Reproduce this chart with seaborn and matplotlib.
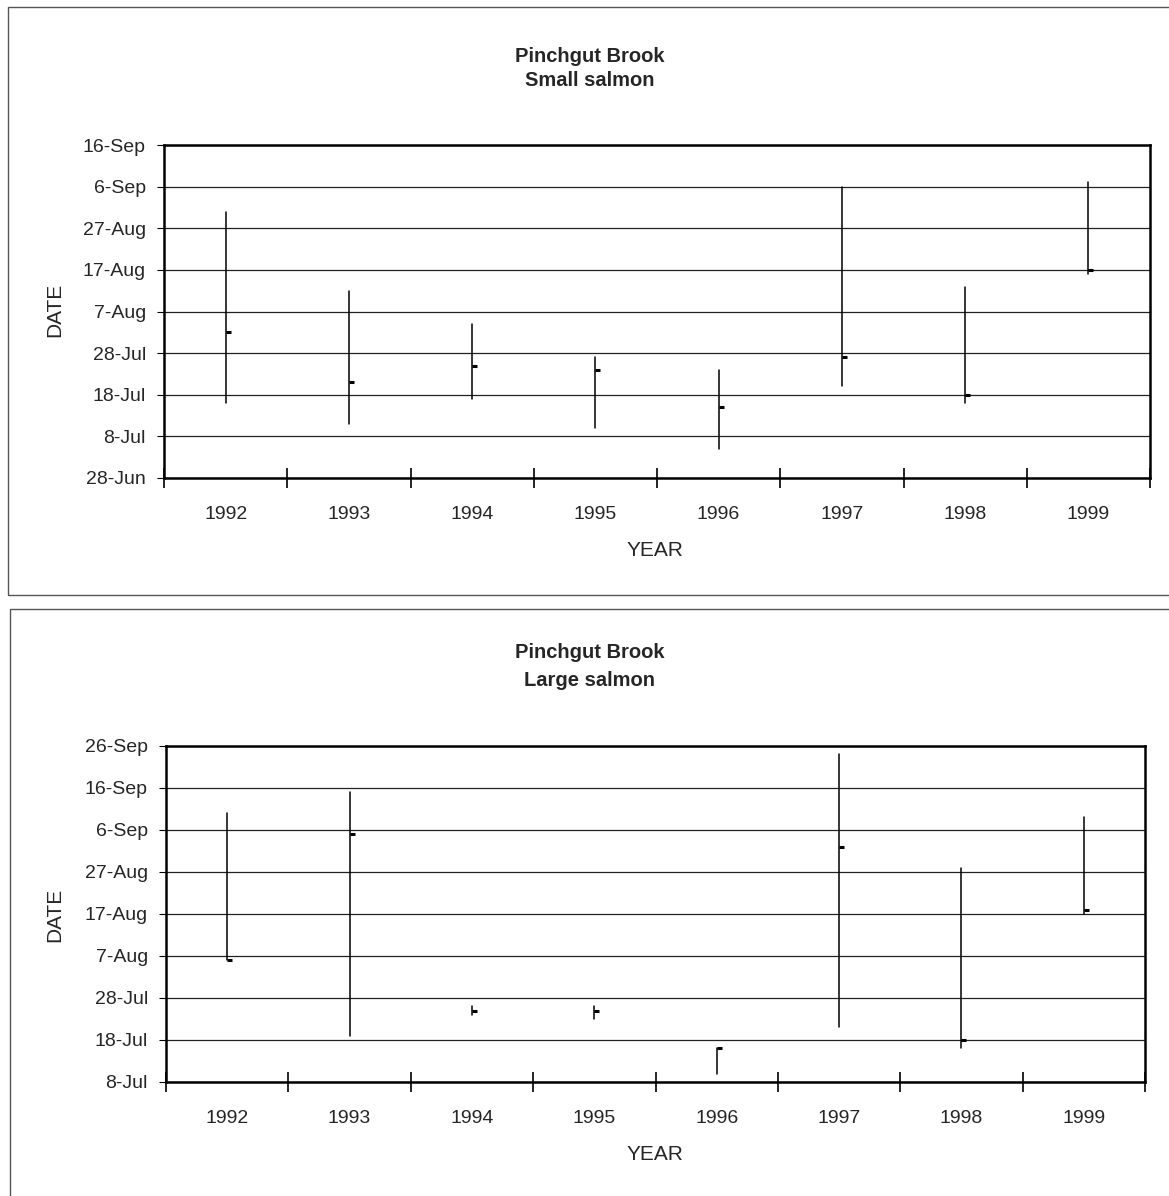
# Pinchgut Brook - datas de passagem de salmão (mín, máx e mediana por ano)
import pandas as pd
import matplotlib
matplotlib.use("Agg")
import matplotlib.pyplot as plt
import matplotlib.dates as mdates
from matplotlib.path import Path
from matplotlib.patches import Rectangle
import seaborn as sns

# ---- dados ----
anos = ["1992", "1993", "1994", "1995", "1996", "1997", "1998", "1999"]

# salmão pequeno
pequeno_min = ["16-Jul", "11-Jul", "17-Jul", "10-Jul", "5-Jul", "20-Jul", "16-Jul", "16-Aug"]
pequeno_max = ["31-Aug", "12-Aug", "4-Aug", "27-Jul", "24-Jul", "6-Sep", "13-Aug", "7-Sep"]
pequeno_med = ["2-Aug", "21-Jul", "25-Jul", "24-Jul", "15-Jul", "27-Jul", "18-Jul", "17-Aug"]

# salmão grande
grande_min = ["6-Aug", "19-Jul", "24-Jul", "23-Jul", "10-Jul", "21-Jul", "16-Jul", "17-Aug"]
grande_max = ["10-Sep", "15-Sep", "26-Jul", "26-Jul", "16-Jul", "24-Sep", "28-Aug", "9-Sep"]
grande_med = ["6-Aug", "5-Sep", "25-Jul", "25-Jul", "16-Jul", "2-Sep", "18-Jul", "18-Aug"]

# limites do eixo y (10 em 10 dias)
lim_pequeno = ("28-Jun", "16-Sep")
lim_grande = ("8-Jul", "26-Sep")


def para_data(txt):
    return pd.to_datetime(txt + "-1999", format="%d-%b-%Y")


def monta_df(mins, maxs, meds):
    df = pd.DataFrame({"ano": anos, "min": mins, "max": maxs, "med": meds})
    for c in ["min", "max", "med"]:
        df[c] = df[c].apply(para_data)
    df["pos"] = range(len(df))
    return df


sns.set_theme(style="white")
plt.rcParams["font.family"] = ["Liberation Sans", "DejaVu Sans"]

fig = plt.figure(figsize=(11.69, 11.96), dpi=100)
W, H = 1169, 1196

# marcador: tracinho que sai para a direita do ponto
tick_dir = Path([(0, 0), (1, 0)], [Path.MOVETO, Path.LINETO])

paineis = [
    (monta_df(pequeno_min, pequeno_max, pequeno_med), lim_pequeno, "Small salmon",
     (164, 145, 1150, 478), (8, 7, 1190, 595), (57, 80), 550, 310),
    (monta_df(grande_min, grande_max, grande_med), lim_grande, "Large salmon",
     (166, 746, 1145, 1082), (10, 609, 1190, 1220), (652, 681), 1155, 915),
]

for df, lim, subtitulo, caixa, moldura, y_tit, y_year, y_date in paineis:
    # moldura externa do gráfico (estilo Excel)
    x0, y0, x1, y1 = moldura
    fig.add_artist(Rectangle((x0 / W, 1 - y1 / H), (x1 - x0) / W, (y1 - y0) / H,
                             transform=fig.transFigure, fill=False,
                             edgecolor="#555555", linewidth=1))

    l, t, r, b = caixa
    ax = fig.add_axes([l / W, 1 - b / H, (r - l) / W, (b - t) / H])

    # linhas verticais min-max
    longo = pd.concat([
        df[["pos", "ano", "min"]].rename(columns={"min": "data"}),
        df[["pos", "ano", "max"]].rename(columns={"max": "data"}),
    ])
    sns.lineplot(data=longo, x="pos", y="data", units="ano", estimator=None,
                 color="black", linewidth=1.1, ax=ax, legend=False)
    # mediana
    sns.scatterplot(data=df, x="pos", y="med", marker=tick_dir, s=60,
                    color="black", edgecolor="black", linewidth=2.2, ax=ax,
                    legend=False)

    # eixo y em datas
    inicio, fim = para_data(lim[0]), para_data(lim[1])
    ax.set_ylim(inicio, fim)
    ax.set_yticks(pd.date_range(inicio, fim, freq="10D"))
    ax.yaxis.set_major_formatter(mdates.DateFormatter("%-d-%b"))
    ax.grid(axis="y", color="#222222", linewidth=0.9)

    # eixo x categórico
    ax.set_xlim(-0.5, len(anos) - 0.5)
    ax.set_xticks(range(len(anos)))
    ax.set_xticklabels(anos)
    ax.set_xticks([i - 0.5 for i in range(len(anos) + 1)], minor=True)
    ax.tick_params(axis="x", which="major", length=0, pad=20, labelsize=14)
    ax.tick_params(axis="x", which="minor", direction="inout", length=14,
                   width=1.2, color="black", bottom=True)
    ax.tick_params(axis="y", which="major", direction="out", length=5,
                   width=0.8, color="black", left=True, labelsize=14, pad=8)

    for lado in ax.spines.values():
        lado.set_color("black")
        lado.set_linewidth(1.8)

    ax.set_xlabel("")
    ax.set_ylabel("")
    fig.text(655 / W, 1 - y_year / H, "YEAR", ha="center", va="center", fontsize=15)
    fig.text(55 / W, 1 - y_date / H, "DATE", ha="center", va="center",
             rotation=90, fontsize=15)
    fig.text(590 / W, 1 - y_tit[0] / H, "Pinchgut Brook", ha="center", va="center",
             fontsize=14.5, fontweight="bold")
    fig.text(590 / W, 1 - y_tit[1] / H, subtitulo, ha="center", va="center",
             fontsize=14.5, fontweight="bold")

fig.savefig("out.png", dpi=100)
